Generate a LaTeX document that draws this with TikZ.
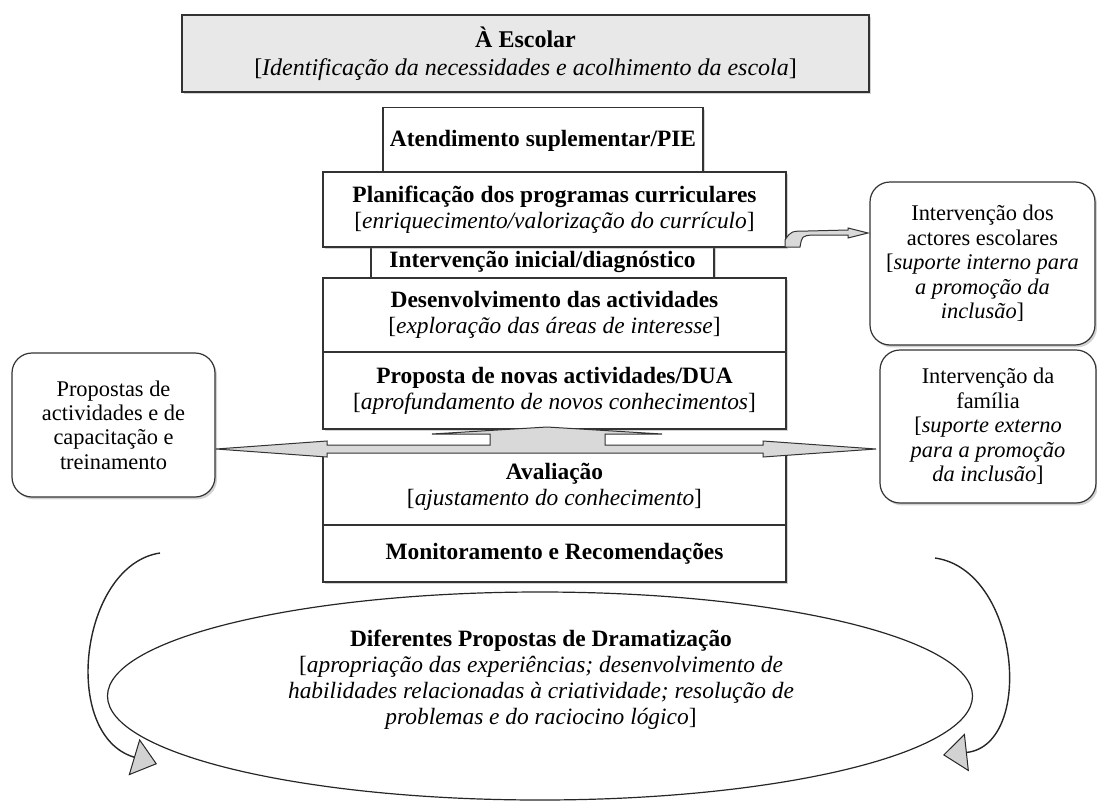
\documentclass[tikz,border=0pt]{standalone}
\usepackage{fontspec}
\setmainfont{Liberation Serif}
\usetikzlibrary{arrows.meta,shadows,shapes.geometric}

\begin{document}
\begin{tikzpicture}[x=0.5pt, y=-0.5pt,
  every node/.style={font=\fontsize{11.7}{13}\selectfont, align=center, inner sep=0pt},
  boxshadow/.style={drop shadow={shadow xshift=1pt, shadow yshift=-1.2pt, opacity=0.35}},
  stage/.style={draw=black!80, line width=0.6pt, fill=white, boxshadow},
  side/.style={draw=black!80, line width=0.6pt, fill=white, rounded corners=10pt, boxshadow,
    font=\fontsize{11.2}{12.2}\selectfont},
  blockarrow/.style={draw=black!80, line width=0.5pt, fill=gray!30},
  cyclearrow/.style={draw=black!85, line width=0.7pt,
    -{Triangle[length=12pt, width=19pt, fill=gray!35, line width=0.5pt]}}]

\useasboundingbox (0,0) rectangle (1097,803);

\node[stage, fill=gray!18, minimum width=343.5pt, minimum height=38.5pt, font=\fontsize{12}{14}\selectfont]
  (escola) at (525.5,53.5)
  {\textbf{À Escolar}\\{}[\textit{Identificação da necessidades e acolhimento da escola}]};

\node[stage, minimum width=160pt, minimum height=33.5pt] (atend) at (543,141)
  {\textbf{Atendimento suplementar/PIE}};
\node[stage, minimum width=171.5pt, minimum height=16pt] (inicial) at (542.5,262)
  {\textbf{Intervenção inicial/diagnóstico}};
\node[stage, minimum width=231.5pt, minimum height=37.5pt] (plan) at (554.5,209.5)
  {\textbf{Planificação dos programas curriculares}\\{}[\textit{enriquecimento/valorização do currículo}]};
\node[stage, minimum width=231.5pt, minimum height=37pt] (desenv) at (554.5,315)
  {\textbf{Desenvolvimento das actividades}\\{}[\textit{exploração das áreas de interesse}]};
\node[stage, minimum width=231.5pt, minimum height=38.5pt] (proposta) at (554.5,390.5)
  {\textbf{Proposta de novas actividades/DUA}\\{}[\textit{aprofundamento de novos conhecimentos}]};
\node[stage, minimum width=231.5pt, minimum height=38pt] (avalia) at (554.5,487)
  {\textbf{Avaliação}\\{}[\textit{ajustamento do conhecimento}]};
\node[stage, minimum width=231.5pt, minimum height=28.5pt] (monitor) at (554.5,553.5)
  {\textbf{Monitoramento e Recomendações}};

\node[side, minimum width=112.5pt, minimum height=81.5pt] (actores) at (982.5,263.5)
  {Intervenção dos\\actores escolares\\{}[\textit{suporte interno para}\\\textit{a promoção da}\\\textit{inclusão}]};
\node[side, minimum width=108pt, minimum height=76.5pt] (familia) at (988,426.5)
  {Intervenção da\\família\\{}[\textit{suporte externo}\\\textit{para a promoção}\\\textit{da inclusão}]};
\node[side, minimum width=101.5pt, minimum height=72pt] (propostas) at (113.5,425)
  {Propostas de\\actividades e de\\capacitação e\\treinamento};

\node[draw=black!85, line width=0.6pt, ellipse, minimum width=432.5pt, minimum height=104pt] (drama) at (540,696) {};
\node (dramatxt) at (541,680)
  {\textbf{Diferentes Propostas de Dramatização}\\{}[\textit{apropriação das experiências; desenvolvimento de}\\
   \textit{habilidades relacionadas à criatividade; resolução de}\\\textit{problemas e do raciocino lógico}]};

\draw[blockarrow] (785,247) -- (785,240) .. controls (791,231) .. (808,231) -- (848,230) -- (848,228)
  -- (868,233) -- (848,238) -- (848,235) -- (812,235) .. controls (802,236) .. (800,247) -- cycle;

\draw[blockarrow] (547,427) -- (662,434) -- (605,434) -- (605,445) -- (763,445) -- (763,441)
  -- (876,449) -- (763,457) -- (763,453) -- (327,453) -- (327,457) -- (216,449) -- (327,441)
  -- (327,445) -- (490,445) -- (490,434) -- (432,434) -- cycle;

\coordinate (lstart) at (160,553);
\coordinate (lend) at (157,764);
\coordinate (rstart) at (935,558);
\coordinate (rend) at (943,755);
\draw[cyclearrow] (lstart) .. controls (80,565) and (60,735) .. (lend);
\draw[cyclearrow] (rstart) .. controls (1020,570) and (1035,745) .. (rend);
\end{tikzpicture}
\end{document}
